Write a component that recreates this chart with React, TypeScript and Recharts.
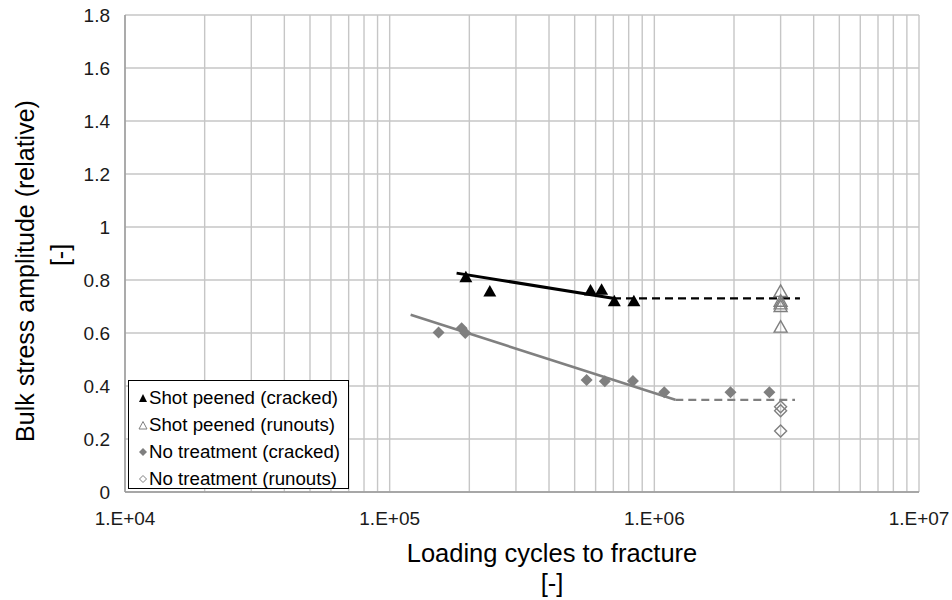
import React from 'react';
import { CartesianGrid, Legend, ReferenceLine, Scatter, ScatterChart, XAxis, YAxis } from 'recharts';

// measured points, x = loading cycles, y = relative bulk stress amplitude
const shotPeenedCracked = [
    { x: 1.94e5, y: 0.81 },
    { x: 2.39e5, y: 0.757 },
    { x: 5.74e5, y: 0.76 },
    { x: 6.32e5, y: 0.763 },
    { x: 7.06e5, y: 0.72 },
    { x: 8.37e5, y: 0.72 },
];

const shotPeenedRunouts = [
    { x: 3.0e6, y: 0.757 },
    { x: 3.0e6, y: 0.72 },
    { x: 3.0e6, y: 0.71 },
    { x: 3.0e6, y: 0.70 },
    { x: 3.0e6, y: 0.622 },
];

const noTreatmentCracked = [
    { x: 1.53e5, y: 0.602 },
    { x: 1.87e5, y: 0.618 },
    { x: 1.93e5, y: 0.60 },
    { x: 5.55e5, y: 0.423 },
    { x: 6.5e5, y: 0.418 },
    { x: 8.3e5, y: 0.419 },
    { x: 1.09e6, y: 0.376 },
    { x: 1.94e6, y: 0.376 },
    { x: 2.72e6, y: 0.376 },
];

const noTreatmentRunouts = [
    { x: 3.0e6, y: 0.322 },
    { x: 3.0e6, y: 0.307 },
    { x: 3.0e6, y: 0.23 },
];

// fitted S-N lines and their fatigue-limit extensions
const shotPeenedFit = [
    { x: 1.79e5, y: 0.826 },
    { x: 6.98e5, y: 0.731 },
];
const shotPeenedLimit = [
    { x: 6.98e5, y: 0.731 },
    { x: 3.55e6, y: 0.731 },
];
const noTreatmentFit = [
    { x: 1.2e5, y: 0.669 },
    { x: 1.2e6, y: 0.348 },
];
const noTreatmentLimit = [
    { x: 1.2e6, y: 0.348 },
    { x: 3.4e6, y: 0.348 },
];

const xTicks = [1e4, 1e5, 1e6, 1e7];
const yTicks = [0, 0.2, 0.4, 0.6, 0.8, 1, 1.2, 1.4, 1.6, 1.8];
const legendLabels = [
    'Shot peened (cracked)',
    'Shot peened (runouts)',
    'No treatment (cracked)',
    'No treatment (runouts)',
];

const minorGrid: number[] = [];
[1e4, 1e5, 1e6].forEach(d => {
    for (let m = 2; m <= 9; m++) minorGrid.push(d * m);
});

const FONT = '"Liberation Sans", Arial, sans-serif';
const GRID = '#c6c6c6';
const GREY = '#7f7f7f';

const FilledTriangle = (p: any) => (
    <path d={`M${p.cx},${p.cy - 6.5} L${p.cx + 6.5},${p.cy + 5} L${p.cx - 6.5},${p.cy + 5} Z`} fill="#000" />
);
const OpenTriangle = (p: any) => (
    <path d={`M${p.cx},${p.cy - 6.5} L${p.cx + 6.5},${p.cy + 5} L${p.cx - 6.5},${p.cy + 5} Z`}
        fill="none" stroke={GREY} strokeWidth={1.4} />
);
const FilledDiamond = (p: any) => (
    <path d={`M${p.cx},${p.cy - 6} L${p.cx + 6},${p.cy} L${p.cx},${p.cy + 6} L${p.cx - 6},${p.cy} Z`} fill={GREY} />
);
const OpenDiamond = (p: any) => (
    <path d={`M${p.cx},${p.cy - 6} L${p.cx + 6},${p.cy} L${p.cx},${p.cy + 6} L${p.cx - 6},${p.cy} Z`}
        fill="none" stroke={GREY} strokeWidth={1.4} />
);
const NoDot = () => <g />;

const legendIcons = [
    <path d="M5,1 L9,9 L1,9 Z" fill="#000" />,
    <path d="M5,1.5 L9,9 L1,9 Z" fill="none" stroke={GREY} strokeWidth={1} />,
    <path d="M5,1 L9,5 L5,9 L1,5 Z" fill={GREY} />,
    <path d="M5,1.5 L8.5,5 L5,8.5 L1.5,5 Z" fill="none" stroke={GREY} strokeWidth={1} />,
];

const LegendBox = () => (
    <div style={{
        border: '1px solid #000', background: '#fff', width: 221, height: 109,
        fontFamily: FONT, fontSize: 18.7, color: '#000', paddingTop: 3, boxSizing: 'border-box',
    }}>
        {legendLabels.map((t, i) => (
            <div key={t} style={{ height: 27, lineHeight: '27px', display: 'flex', alignItems: 'center', paddingLeft: 9 }}>
                <svg width={10} height={10} style={{ marginRight: 1 }}>{legendIcons[i]}</svg>
                <span>{t}</span>
            </div>
        ))}
    </div>
);

const YTitle = () => (
    <g fontFamily={FONT} fontSize={25} fill="#000" textAnchor="middle">
        <text x={25} y={271} dominantBaseline="central" transform="rotate(-90 25 271)">Bulk stress amplitude (relative)</text>
        <text x={60} y={255} dominantBaseline="central" transform="rotate(-90 60 255)">[-]</text>
    </g>
);

const XTitle = () => (
    <g fontFamily={FONT} fontSize={25.5} fill="#000" textAnchor="middle">
        <text x={552} y={553} dominantBaseline="central">Loading cycles to fracture</text>
        <text x={552} y={583} dominantBaseline="central">[-]</text>
    </g>
);

const fmtX = (v: number) => `1.E+${String(Math.round(Math.log10(v))).padStart(2, '0')}`;

const App: React.FC = () => {
    return (
        <div style={{ position: 'absolute', left: 0, top: 0 }}>
            <ScatterChart width={952} height={600} margin={{ top: 15, right: 33, left: 0, bottom: 0 }}>
                <CartesianGrid stroke={GRID} strokeWidth={1.4} />
                {minorGrid.map(v => (
                    <ReferenceLine key={v} x={v} stroke={GRID} strokeWidth={1.4} />
                ))}
                <XAxis type="number" dataKey="x" scale="log" domain={[1e4, 1e7]} ticks={xTicks}
                    allowDataOverflow tickFormatter={fmtX} height={108}
                    tickLine={false} tickSize={5} tickMargin={15}
                    axisLine={{ stroke: '#999', strokeWidth: 1.4 }}
                    tick={{ fontFamily: FONT, fontSize: 19, fill: '#1a1a1a' }}
                    label={{ content: () => <XTitle /> }} />
                <YAxis type="number" dataKey="y" domain={[0, 1.8]} ticks={yTicks} width={125}
                    tickLine={false} tickSize={5} tickMargin={10}
                    axisLine={{ stroke: '#999', strokeWidth: 1.4 }}
                    tick={{ fontFamily: FONT, fontSize: 19, fill: '#1a1a1a' }}
                    label={{ content: () => <YTitle /> }} />
                <Legend layout="vertical" align="center" verticalAlign="middle" content={() => <LegendBox />}
                    wrapperStyle={{ left: 128, top: 380, width: 223, height: 111 }} />
                <Scatter data={shotPeenedFit} shape={NoDot} line={{ stroke: '#000', strokeWidth: 3 }} legendType="none" isAnimationActive={false} />
                <Scatter data={shotPeenedLimit} shape={NoDot} line={{ stroke: '#000', strokeWidth: 2.2, strokeDasharray: '8 5' }} legendType="none" isAnimationActive={false} />
                <Scatter data={noTreatmentFit} shape={NoDot} line={{ stroke: '#808080', strokeWidth: 2.6 }} legendType="none" isAnimationActive={false} />
                <Scatter data={noTreatmentLimit} shape={NoDot} line={{ stroke: '#808080', strokeWidth: 2.2, strokeDasharray: '8 5' }} legendType="none" isAnimationActive={false} />
                <Scatter name={legendLabels[0]} data={shotPeenedCracked} shape={FilledTriangle} isAnimationActive={false} />
                <Scatter name={legendLabels[1]} data={shotPeenedRunouts} shape={OpenTriangle} isAnimationActive={false} />
                <Scatter name={legendLabels[2]} data={noTreatmentCracked} shape={FilledDiamond} isAnimationActive={false} />
                <Scatter name={legendLabels[3]} data={noTreatmentRunouts} shape={OpenDiamond} isAnimationActive={false} />
            </ScatterChart>
        </div>
    );
};

export default App;
